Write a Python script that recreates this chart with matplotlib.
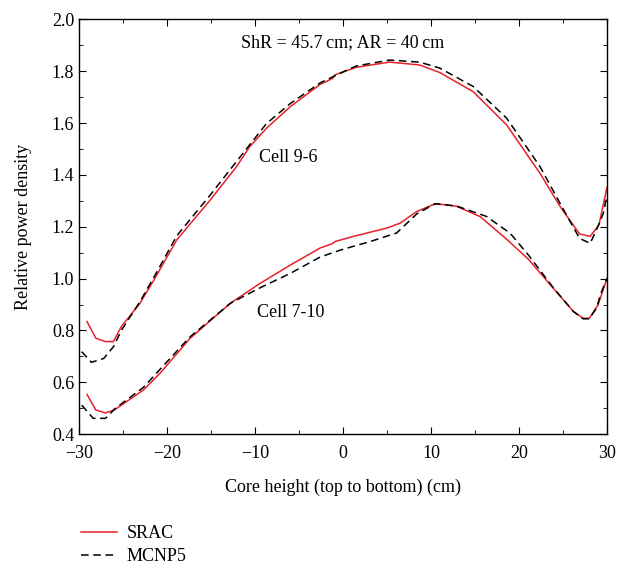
import numpy as np
import matplotlib
matplotlib.use("Agg")
import matplotlib.pyplot as plt
from matplotlib.ticker import MultipleLocator

plt.rcParams['font.family'] = ['Liberation Serif', 'DejaVu Serif']
plt.rcParams['mathtext.fontset'] = 'stix'

# Cell 9-6 (upper curves)
x_srac_96 = [-29.1, -28.1, -27.0, -26.1, -25.2, -23.1, -21.5, -18.9, -15.1, -12.1, -10.6, -8.7,
             -6.0, -2.6, -1.2, -0.9, 1.5, 5.3, 8.7, 11.0, 14.8, 18.6, 22.4, 24.7, 26.9, 28.1,
             29.1, 30.0]
y_srac_96 = [0.834, 0.770, 0.757, 0.757, 0.815, 0.904, 0.994, 1.149, 1.303, 1.432, 1.509, 1.580,
             1.663, 1.749, 1.772, 1.786, 1.815, 1.835, 1.824, 1.795, 1.721, 1.593, 1.406, 1.277,
             1.172, 1.163, 1.207, 1.350]
x_mcnp_96 = [-29.7, -28.6, -27.2, -26.1, -25.2, -23.1, -21.5, -18.9, -15.1, -12.1, -8.7, -6.0,
             -2.6, 0.0, 1.5, 5.3, 8.7, 11.0, 14.8, 18.6, 22.4, 25.1, 26.9, 28.1, 28.8, 29.6, 30.0]
y_mcnp_96 = [0.718, 0.677, 0.692, 0.737, 0.800, 0.910, 1.005, 1.165, 1.322, 1.452, 1.598, 1.675,
             1.755, 1.797, 1.820, 1.843, 1.835, 1.812, 1.741, 1.619, 1.432, 1.264, 1.155, 1.136,
             1.187, 1.252, 1.320]

# Cell 7-10 (lower curves)
x_srac_710 = [-29.1, -28.1, -27.0, -26.0, -22.7, -20.8, -17.4, -12.8, -9.4, -6.0, -2.6, -1.2,
              -0.9, 1.2, 5.0, 6.5, 8.4, 10.5, 12.9, 15.6, 18.6, 21.1, 23.9, 26.2, 27.3, 28.0,
              29.0, 30.0]
y_srac_710 = [0.553, 0.493, 0.482, 0.493, 0.570, 0.635, 0.769, 0.905, 0.982, 1.052, 1.118, 1.135,
              1.143, 1.163, 1.195, 1.214, 1.259, 1.289, 1.279, 1.239, 1.152, 1.074, 0.963, 0.873,
              0.847, 0.847, 0.899, 1.000]
x_mcnp_710 = [-29.7, -28.4, -27.0, -25.9, -22.7, -20.8, -17.4, -12.8, -9.4, -6.0, -2.6, -0.3,
              3.1, 6.1, 8.4, 10.5, 12.9, 16.3, 19.0, 21.1, 23.9, 26.2, 27.3, 28.0, 28.8, 29.4,
              30.0]
y_mcnp_710 = [0.512, 0.461, 0.461, 0.499, 0.580, 0.650, 0.775, 0.905, 0.965, 1.020, 1.083, 1.110,
              1.143, 1.176, 1.250, 1.289, 1.280, 1.240, 1.175, 1.090, 0.965, 0.873, 0.845, 0.845,
              0.885, 0.950, 1.000]

red = '#e8202a'
fs = 13

fig = plt.figure(figsize=(6.18, 5.69), dpi=100)
ax = fig.add_axes([0.128, 0.237, 0.854, 0.729])

ax.plot(x_srac_96, y_srac_96, color=red, lw=1.1, label='SRAC')
ax.plot(x_mcnp_96, y_mcnp_96, color='black', lw=1.1, ls=(0, (5, 3)), label='MCNP5')
ax.plot(x_srac_710, y_srac_710, color=red, lw=1.1)
ax.plot(x_mcnp_710, y_mcnp_710, color='black', lw=1.1, ls=(0, (5, 3)))

ax.set_xlim(-30, 30)
ax.set_ylim(0.4, 2.0)
ax.xaxis.set_major_locator(MultipleLocator(10))
ax.xaxis.set_minor_locator(MultipleLocator(5))
ax.yaxis.set_major_locator(MultipleLocator(0.2))
ax.yaxis.set_minor_locator(MultipleLocator(0.1))
ax.yaxis.set_major_formatter(plt.FuncFormatter(lambda v, _: '{:.1f}'.format(v)))
ax.xaxis.set_major_formatter(plt.FuncFormatter(lambda v, _: '{:d}'.format(int(round(v))).replace('-', '\u2212')))
ax.tick_params(which='both', direction='in', top=True, right=True, labelsize=fs)
ax.tick_params(which='major', length=5)
ax.tick_params(which='minor', length=3)
ax.tick_params(axis='x', which='major', pad=8)
for s in ax.spines.values():
    s.set_linewidth(1.0)

ax.set_xlabel('Core height (top to bottom) (cm)', fontsize=fs, labelpad=12)
ax.set_ylabel('Relative power density', fontsize=fs, labelpad=14)

ax.text(0, 1.909, 'ShR = 45.7\u2009cm; AR = 40\u2009cm', fontsize=fs, ha='center', va='center')
ax.text(-6.2, 1.469, 'Cell 9-6', fontsize=fs, ha='center', va='center')
ax.text(-5.9, 0.871, 'Cell 7-10', fontsize=fs, ha='center', va='center')

fig.legend(loc='center left', bbox_to_anchor=(0.104, 0.042), frameon=False, fontsize=fs,
           handlelength=2.0, labelspacing=0.35, handletextpad=0.55)

fig.savefig('out.png', dpi=100)
